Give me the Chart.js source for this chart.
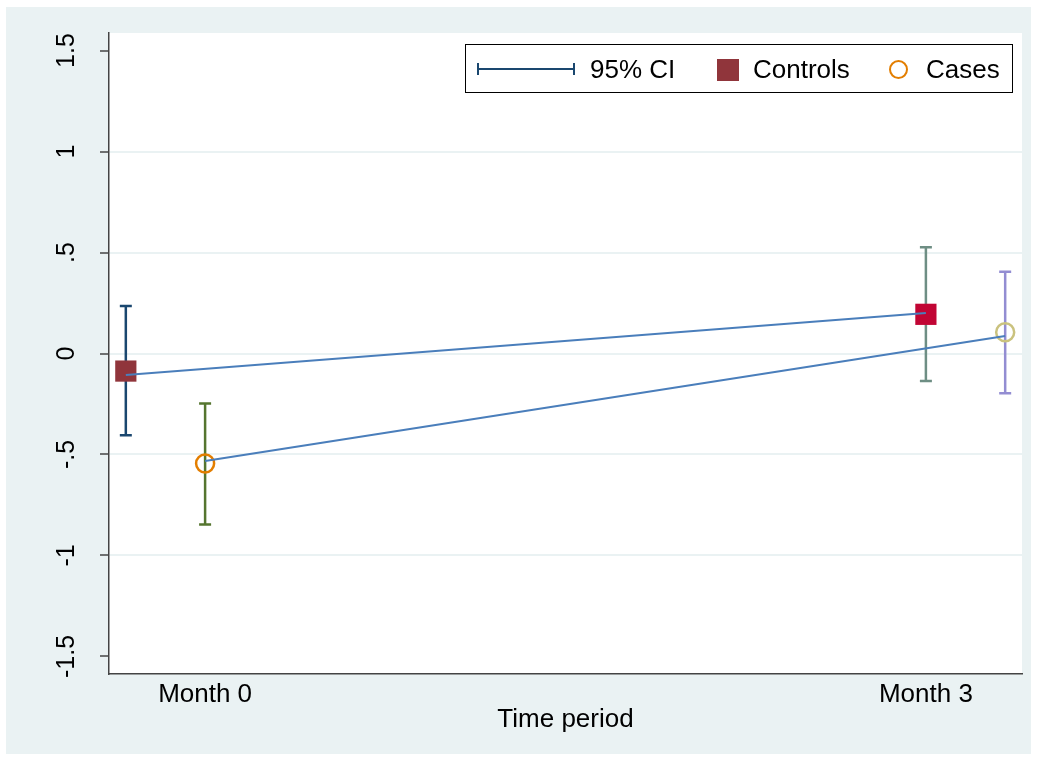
<!DOCTYPE html>
<html>
<head>
<meta charset="utf-8">
<script src="https://cdn.jsdelivr.net/npm/chart.js@4/dist/chart.umd.min.js"></script>
<style>
  html, body { margin: 0; padding: 0; background: #fff; }
  #wrap { position: relative; width: 1037px; height: 760px; }
  #legend { position: absolute; left: 465px; top: 44px; width: 546px; height: 47px;
    border: 1.5px solid #000; background: #fff; font-family: "Liberation Sans", Arial, sans-serif;
    font-size: 26px; color: #000; }
  #legend .it { position: absolute; top: 0; line-height: 49px; white-space: nowrap; }
  #legend .ci { position: absolute; left: 11px; top: 23px; width: 98px; height: 2px; background: #1a476f; }
  #legend .ci:before, #legend .ci:after { content: ""; position: absolute; top: -5px; width: 2px; height: 12px; background: #1a476f; }
  #legend .ci:before { left: 0; }
  #legend .ci:after { right: 0; }
  #legend .sq { position: absolute; left: 251px; top: 14px; width: 22px; height: 22px; background: #90353b; }
  #legend .cc { position: absolute; left: 423px; top: 15px; width: 15px; height: 15px; border: 2.5px solid #e37e00; border-radius: 50%; }
</style>
</head>
<body>
<div id="wrap">
  <canvas id="c" width="1037" height="760"></canvas>
  <div id="legend">
    <div class="ci"></div><span class="it" style="left:124px">95% CI</span>
    <div class="sq"></div><span class="it" style="left:287px">Controls</span>
    <div class="cc"></div><span class="it" style="left:460px">Cases</span>
  </div>
</div>
<script>
// time points and their labels
var monthPos = [0, 3];
var monthLabels = ["Month 0", "Month 3"];
var yTicks = [-1.5, -1, -0.5, 0, 0.5, 1, 1.5];

// controls: plotted slightly left at month 0
var controlsX = [-0.33, 3];
var controlsMean = [-0.087, 0.194];
var controlsLo = [-0.405, -0.136];
var controlsHi = [0.235, 0.526];
var controlsFit = [-0.106, 0.2];

// cases: plotted slightly right at month 3
var casesX = [0, 3.33];
var casesMean = [-0.545, 0.105];
var casesLo = [-0.847, -0.197];
var casesHi = [-0.247, 0.405];
var casesFit = [-0.532, 0.087];

var ciColors = [["#1a476f", "#6e8e84"], ["#55752f", "#938dd2"]];

function pts(xs, ys) {
  return xs.map(function (x, i) { return { x: x, y: ys[i] }; });
}

var bgPlugin = {
  id: 'bg',
  beforeDraw: function (chart) {
    var ctx = chart.ctx, a = chart.chartArea;
    ctx.save();
    ctx.fillStyle = "#fff";
    ctx.fillRect(0, 0, chart.width, chart.height);
    ctx.fillStyle = "#eaf2f3";
    ctx.fillRect(6, 7, 1025, 747);
    ctx.fillStyle = "#fff";
    ctx.fillRect(a.left, a.top, a.right - a.left, a.bottom - a.top);
    ctx.restore();
  }
};

// 95% CI whiskers drawn through the chart scales
var ciPlugin = {
  id: 'ci',
  beforeDatasetsDraw: function (chart) {
    var ctx = chart.ctx, xs = chart.scales.x, ys = chart.scales.y;
    var groups = [[controlsX, controlsLo, controlsHi], [casesX, casesLo, casesHi]];
    ctx.save();
    ctx.lineWidth = 2.5;
    groups.forEach(function (g, gi) {
      g[0].forEach(function (xv, i) {
        var px = xs.getPixelForValue(xv);
        var lo = ys.getPixelForValue(g[1][i]);
        var hi = ys.getPixelForValue(g[2][i]);
        ctx.strokeStyle = ciColors[gi][i];
        ctx.beginPath();
        ctx.moveTo(px, lo); ctx.lineTo(px, hi);
        ctx.moveTo(px - 6, lo); ctx.lineTo(px + 6, lo);
        ctx.moveTo(px - 6, hi); ctx.lineTo(px + 6, hi);
        ctx.stroke();
      });
    });
    ctx.restore();
  }
};

Chart.defaults.font.family = '"Liberation Sans", Arial, sans-serif';
Chart.defaults.color = "#000";

new Chart(document.getElementById("c"), {
  type: 'scatter',
  data: {
    datasets: [{
      type: 'line',
      data: pts(controlsX, controlsFit),
      borderColor: "#4a7ebb",
      borderWidth: 2,
      pointRadius: 0,
      order: 0
    }, {
      type: 'line',
      data: pts(casesX, casesFit),
      borderColor: "#4a7ebb",
      borderWidth: 2,
      pointRadius: 0,
      order: 0
    }, {
      label: 'Controls',
      data: pts(controlsX, controlsMean),
      pointStyle: 'rect',
      pointRadius: 15,
      pointBorderWidth: 0,
      pointBackgroundColor: ["#90353b", "#c10534"],
      pointBorderColor: ["#90353b", "#c10534"],
      order: 1
    }, {
      label: 'Cases',
      data: pts(casesX, casesMean),
      pointStyle: 'circle',
      pointRadius: 9,
      pointBorderWidth: 2.5,
      pointBackgroundColor: "rgba(0,0,0,0)",
      pointBorderColor: ["#e37e00", "#cac27e"],
      order: 1
    }]
  },
  options: {
    responsive: false,
    animation: false,
    layout: { padding: { left: 6, top: 33, right: 14, bottom: 0 } },
    plugins: { legend: { display: false }, tooltip: { enabled: false } },
    scales: {
      x: {
        type: 'linear',
        min: -0.4,
        max: 3.4,
        afterBuildTicks: function (s) { s.ticks = monthPos.map(function (v) { return { value: v }; }); },
        afterFit: function (s) { s.height = 86; },
        grid: { display: false, drawTicks: false },
        border: { display: true, color: "#444", width: 1.5 },
        ticks: {
          font: { size: 26 },
          padding: 5,
          maxRotation: 0,
          callback: function (v) { return monthLabels[monthPos.indexOf(v)]; }
        },
        title: { display: true, text: "Time period", font: { size: 26 }, padding: { top: 24, bottom: 25 } }
      },
      y: {
        min: -1.587,
        max: 1.587,
        afterBuildTicks: function (s) { s.ticks = yTicks.map(function (v) { return { value: v }; }); },
        afterFit: function (s) { s.width = 103; },
        grid: {
          color: function (c) { return Math.abs(c.tick.value) > 1.2 ? "rgba(0,0,0,0)" : "#eaf2f3"; },
          lineWidth: 2,
          tickColor: "#444",
          tickWidth: 1.5,
          tickLength: 9
        },
        border: { display: true, color: "#444", width: 1.5 },
        ticks: {
          font: { size: 25 },
          minRotation: 90,
          maxRotation: 90,
          crossAlign: 'center',
          padding: 11,
          callback: function (v) {
            var s = String(v);
            return s.replace(/^0\./, ".").replace(/^-0\./, "-.");
          }
        }
      }
    }
  },
  plugins: [bgPlugin, ciPlugin]
});
</script>
</body>
</html>
